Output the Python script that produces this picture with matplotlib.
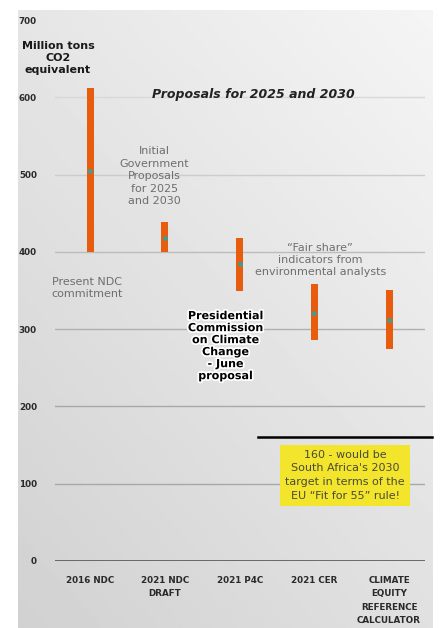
import numpy as np
import matplotlib.pyplot as plt
import matplotlib.patheffects as pe

plt.rcParams['font.family'] = ['DejaVu Sans']

# data (million tons CO2 equivalent)
categories = ["2016 NDC", "2021 NDC\nDRAFT", "2021 P4C", "2021 CER",
              "CLIMATE\nEQUITY\nREFERENCE\nCALCULATOR"]
lows = [400, 400, 350, 286, 274]
highs = [612, 438, 418, 358, 350]
mids = [505, 418, 384, 321, 312]
fit_for_55 = 160
yticks = [0, 100, 200, 300, 400, 500, 600, 700]

fig = plt.figure(figsize=(4.41, 6.28), dpi=100)
fig.patch.set_facecolor("white")

# grey gradient panel behind the chart
bg = fig.add_axes([18 / 441, 0, 414 / 441, 618 / 628])
gx, gy = np.meshgrid(np.linspace(0, 1, 200), np.linspace(0, 1, 200))
grad = 0.82 + 0.06 * gx + 0.08 * gy
bg.imshow(grad, cmap="gray", vmin=0, vmax=1, origin="lower",
          aspect="auto", extent=[0, 1, 0, 1])
bg.axis("off")

ax = fig.add_axes([55 / 441, 1 - 561 / 628, 370 / 441, 541 / 628])
ax.set_facecolor("none")
x = np.arange(len(categories))

ax.bar(x, np.array(highs) - np.array(lows), bottom=lows, width=0.095,
       color="#e85c0d", zorder=3)
ax.scatter(x, mids, s=12, color="#3a9e9a", zorder=4, linewidths=0)

ax.set_xlim(-0.47, 4.48)
ax.set_ylim(0, 700)
ax.set_yticks(yticks)
ax.set_xticks(x)
ax.set_xticklabels(categories, fontsize=6.3, fontweight="bold",
                   color="#2a2a2a", linespacing=1.6, va="top")
for lab in ax.get_yticklabels():
    lab.set_fontsize(6.3)
    lab.set_fontweight("bold")
    lab.set_color("#2a2a2a")
ax.tick_params(axis="both", length=0)
ax.tick_params(axis="y", pad=13)
ax.tick_params(axis="x", pad=11)
for s in ax.spines.values():
    s.set_visible(False)
grid_colors = ["#a8a8a8", "#a8a8a8", "#b0b0b0", "#bcbcbc", "#cccccc", "#d8d8d8"]
for v, c in zip(yticks[1:-1], grid_colors):
    ax.axhline(v, color=c, lw=1, zorder=1)
ax.axhline(0, color="#555555", lw=1.2, zorder=2)

# Fit for 55 reference line
ax.plot([2.25, 4.58], [fit_for_55, fit_for_55], color="black", lw=1.8,
        clip_on=False, zorder=3)

ax.text(-0.43, 651, "Million tons\nCO2\nequivalent", ha="center",
        va="center", fontsize=8, fontweight="bold", color="#1a1a1a",
        linespacing=1.25)
ax.text(2.18, 603, "Proposals for 2025 and 2030", ha="center", va="center",
        fontsize=9, fontweight="bold", style="italic", color="#222222")
ax.text(0.86, 498, "Initial\nGovernment\nProposals\nfor 2025\nand 2030",
        ha="center", va="center", fontsize=8, color="#6e6e6e",
        linespacing=1.3)
ax.text(-0.04, 353, "Present NDC\ncommitment", ha="center", va="center",
        fontsize=8, color="#6e6e6e", linespacing=1.3)
ax.text(1.81, 278, "Presidential\nCommission\non Climate\nChange\n- June\nproposal",
        ha="center", va="center", fontsize=8, fontweight="bold",
        color="black", linespacing=1.25,
        path_effects=[pe.withStroke(linewidth=2.5, foreground="white")])
ax.text(3.08, 389, "\u201cFair share\u201d\nindicators from\nenvironmental analysts",
        ha="center", va="center", fontsize=8, color="#6e6e6e",
        linespacing=1.25)
ax.text(3.41, 111,
        "160 - would be\nSouth Africa's 2030\ntarget in terms of the\nEU \u201cFit for 55\u201d rule!",
        ha="center", va="center", fontsize=8, color="#4a4a3a",
        linespacing=1.45,
        bbox=dict(boxstyle="square,pad=0.45", facecolor="#f3e52c",
                  edgecolor="none"))

fig.savefig("out.png", dpi=100)
